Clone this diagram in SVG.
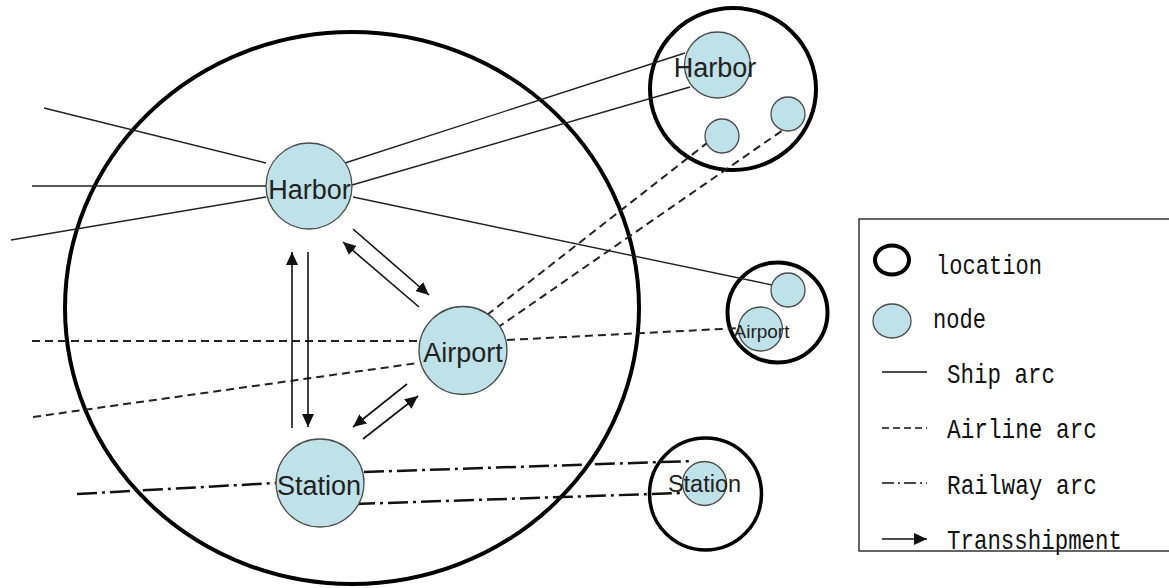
<svg xmlns="http://www.w3.org/2000/svg" width="1169" height="588" viewBox="0 0 1169 588">
  <style>
    .loc { fill: none; stroke: #000; stroke-width: 4; }
    .node { fill: #bfe2e8; stroke: #4a4a4a; stroke-width: 1.3; }
    .label { font-family: "Liberation Sans", Arial, sans-serif; fill: #222; text-anchor: middle; }
    .ship { stroke: #222; stroke-width: 1.4; fill: none; }
    .air { stroke: #222; stroke-width: 2; stroke-dasharray: 8 5; fill: none; }
    .rail { stroke: #111; stroke-width: 2.5; stroke-dasharray: 20 5 3 5; fill: none; }
    .trans { stroke: #111; stroke-width: 1.6; fill: none; marker-end: url(#arrow); }
    .legend-text { font-family: "Liberation Mono", "DejaVu Sans Mono", monospace; font-size: 28px; fill: #111; }
  </style>
  <defs>
    <marker id="arrow" markerUnits="userSpaceOnUse" markerWidth="14" markerHeight="12" viewBox="0 0 14 12" refX="13" refY="6" orient="auto">
      <path d="M0,0 L13,6 L0,12 Z" fill="#111"/>
    </marker>
  </defs>

  <rect x="0" y="0" width="1169" height="588" fill="#fff"/>

  <!-- location boundaries -->
  <g id="locations">
    <ellipse id="loc-main" class="loc" cx="352" cy="308" rx="287" ry="276"/>
    <ellipse id="loc-harbor" class="loc" cx="733" cy="89" rx="83" ry="81"/>
    <circle id="loc-airport" class="loc" cx="777.5" cy="312.5" r="50"/>
    <circle id="loc-station" class="loc" cx="705.5" cy="494" r="56" style="stroke-width:3.5"/>
  </g>

  <!-- arcs between nodes -->
  <g id="connectors">
    <!-- ship arcs -->
    <line class="ship" x1="44" y1="108" x2="266" y2="163"/>
    <line class="ship" x1="32" y1="186" x2="267" y2="186"/>
    <line class="ship" x1="11" y1="240" x2="266" y2="197"/>
    <line class="ship" x1="345" y1="163" x2="685" y2="53"/>
    <line class="ship" x1="352" y1="185" x2="690" y2="87"/>
    <line class="ship" x1="353" y1="197" x2="772" y2="285"/>
    <!-- airline arcs -->
    <line class="air" x1="32" y1="341" x2="419" y2="341"/>
    <line class="air" x1="33" y1="417" x2="418" y2="363"/>
    <line class="air" x1="507" y1="340" x2="740" y2="328"/>
    <line class="air" x1="487" y1="315" x2="707" y2="143"/>
    <line class="air" x1="497" y1="328" x2="783" y2="130"/>
    <!-- railway arcs -->
    <line class="rail" x1="77" y1="494" x2="276" y2="483"/>
    <line class="rail" x1="364" y1="472" x2="693" y2="461"/>
    <line class="rail" x1="355" y1="504" x2="682" y2="493"/>
    <!-- transshipment -->
    <line class="trans" x1="292" y1="428" x2="292" y2="252"/>
    <line class="trans" x1="308" y1="252" x2="308" y2="427"/>
    <line class="trans" x1="353" y1="229" x2="429" y2="295"/>
    <line class="trans" x1="419" y1="307" x2="343" y2="242"/>
    <line class="trans" x1="407" y1="384" x2="353" y2="427"/>
    <line class="trans" x1="363" y1="439" x2="418" y2="396"/>
  </g>

  <!-- nodes -->
  <g id="node-harbor">
    <circle class="node" cx="309" cy="186" r="43"/>
    <text class="label" x="309.5" y="199" font-size="27">Harbor</text>
  </g>
  <g id="node-airport">
    <circle class="node" cx="463" cy="350.5" r="44"/>
    <text class="label" x="463" y="362" font-size="27">Airport</text>
  </g>
  <g id="node-station">
    <circle class="node" cx="320" cy="483" r="44"/>
    <text class="label" x="319" y="495" font-size="27">Station</text>
  </g>
  <g id="node-harbor-r">
    <circle class="node" cx="717.5" cy="65" r="33"/>
    <text class="label" x="715" y="77" font-size="27">Harbor</text>
  </g>
  <g id="node-harbor-r2">
    <circle class="node" cx="722" cy="136" r="17"/>
  </g>
  <g id="node-harbor-r3">
    <circle class="node" cx="788" cy="114" r="17"/>
  </g>
  <g id="node-airport-r2">
    <circle class="node" cx="788" cy="290" r="17"/>
  </g>
  <g id="node-airport-r">
    <circle class="node" cx="760.5" cy="329" r="22"/>
    <text class="label" x="761.5" y="338" font-size="19">Airport</text>
  </g>
  <g id="node-station-r">
    <circle class="node" cx="704.5" cy="483.5" r="22"/>
    <text class="label" x="704.5" y="492" font-size="23.5">Station</text>
  </g>

  <!-- legend -->
  <g id="legend">
    <rect x="859" y="219" width="320" height="332" fill="#fff" stroke="#333" stroke-width="1.5"/>
    <ellipse cx="892" cy="260" rx="17" ry="14.5" fill="none" stroke="#000" stroke-width="4"/>
    <text class="legend-text" x="936" y="274" textLength="106" lengthAdjust="spacingAndGlyphs">location</text>
    <ellipse class="node" cx="892" cy="321" rx="19" ry="17"/>
    <text class="legend-text" x="933" y="328" textLength="53" lengthAdjust="spacingAndGlyphs">node</text>
    <line x1="882" y1="372" x2="927" y2="372" stroke="#111" stroke-width="1.5"/>
    <text class="legend-text" x="947" y="383" textLength="108" lengthAdjust="spacingAndGlyphs">Ship arc</text>
    <line x1="882" y1="428" x2="927" y2="428" stroke="#111" stroke-width="1.5" stroke-dasharray="7 4"/>
    <text class="legend-text" x="947" y="438" textLength="150" lengthAdjust="spacingAndGlyphs">Airline arc</text>
    <line x1="882" y1="483" x2="927" y2="483" stroke="#111" stroke-width="1.5" stroke-dasharray="12 4 2 4"/>
    <text class="legend-text" x="947" y="494" textLength="150" lengthAdjust="spacingAndGlyphs">Railway arc</text>
    <line x1="882" y1="539" x2="927" y2="539" stroke="#111" stroke-width="1.5" marker-end="url(#arrow)"/>
    <text class="legend-text" x="947" y="549" textLength="175" lengthAdjust="spacingAndGlyphs">Transshipment</text>
  </g>
</svg>
